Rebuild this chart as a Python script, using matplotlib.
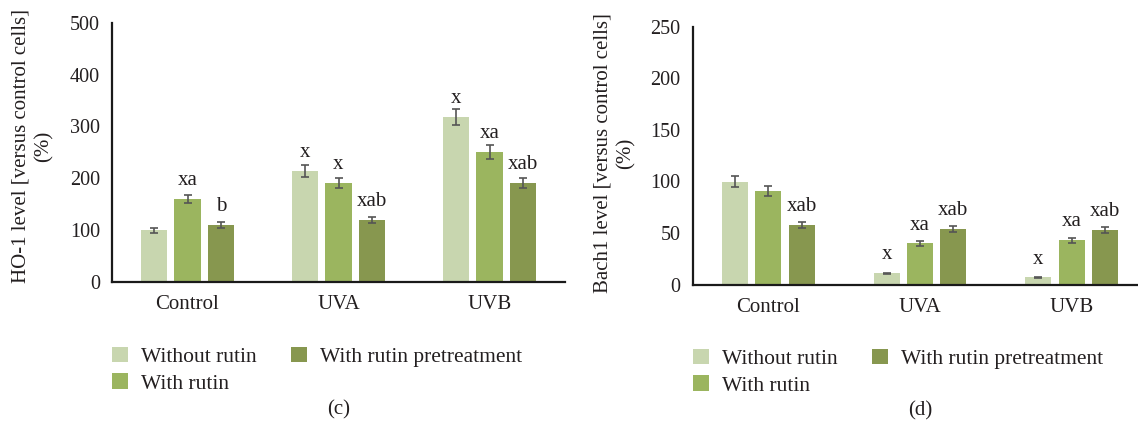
import numpy as np
import matplotlib
matplotlib.use("Agg")
import matplotlib.pyplot as plt

plt.rcParams.update({
    "font.family": ["Liberation Serif", "DejaVu Serif"],
    "text.color": "#231f20",
    "axes.labelcolor": "#231f20",
    "xtick.color": "#231f20",
    "ytick.color": "#231f20",
})

groups = ["Control", "UVA", "UVB"]
series = ["Without rutin", "With rutin", "With rutin pretreatment"]
colors = ["#c8d6af", "#9bb55f", "#87974f"]

# HO-1 level (% of control cells)
ho1_without = [100, 214, 318]
ho1_with = [160, 191, 251]
ho1_pre = [110, 120, 191]
ho1_without_err = [5, 11, 16]
ho1_with_err = [8, 10, 13]
ho1_pre_err = [6, 6, 10]
ho1_without_sig = ["", "x", "x"]
ho1_with_sig = ["xa", "x", "xa"]
ho1_pre_sig = ["b", "xab", "xab"]

# Bach1 level (% of control cells)
bach1_without = [100, 11, 7]
bach1_with = [91, 40, 43]
bach1_pre = [58, 54, 53]
bach1_without_err = [5, 0.7, 0.4]
bach1_with_err = [4.7, 2.3, 2.4]
bach1_pre_err = [3, 2.7, 2.7]
bach1_without_sig = ["", "x", "x"]
bach1_with_sig = ["", "xa", "xa"]
bach1_pre_sig = ["xab", "xab", "xab"]

W, H = 1138, 422
fig = plt.figure(figsize=(W / 100, H / 100), dpi=100)


def draw_panel(rect, vals, errs, sigs, ylabel, ymax, ystep, label_xy):
    ax = fig.add_axes(rect)
    x = np.arange(len(groups))
    offsets = [-0.22, 0.0, 0.22]
    bars = []
    for v, e, s, off, c, name in zip(vals, errs, sigs, offsets, colors, series):
        b = ax.bar(x + off, v, 0.173, color=c, label=name, zorder=2)
        ax.errorbar(x + off, v, yerr=e, fmt="none", ecolor="#555555",
                    elinewidth=1.2, capsize=3, capthick=1.2, zorder=3)
        for xi, vi, si in zip(x + off, v, s):
            if si:
                ax.annotate(si, (xi, vi), xytext=(0, 10), textcoords="offset points",
                            ha="center", va="baseline", fontsize=15)
        bars.append(b)
    ax.set_xlim(-0.5, 2.5)
    ax.set_ylim(0, ymax)
    ax.set_yticks(np.arange(0, ymax + 1, ystep))
    ax.set_xticks(x)
    ax.set_xticklabels(groups, fontsize=15)
    ax.tick_params(axis="x", length=0, pad=9.5)
    ax.tick_params(axis="y", length=0, pad=8.5, labelsize=14.5)
    for side in ("top", "right"):
        ax.spines[side].set_visible(False)
    for side in ("left", "bottom"):
        ax.spines[side].set_linewidth(1.6)
        ax.spines[side].set_color("#1a1a1a")
    ax.set_ylabel(ylabel, fontsize=15, linespacing=1.25)
    ax.yaxis.set_label_coords(*label_xy)
    return ax, bars


ax1, bars1 = draw_panel(
    [112 / W, 1 - 282 / H, 453 / W, 259.3 / H],
    [ho1_without, ho1_with, ho1_pre],
    [ho1_without_err, ho1_with_err, ho1_pre_err],
    [ho1_without_sig, ho1_with_sig, ho1_pre_sig],
    "HO-1 level [versus control cells]\n(%)", 500, 100, (-0.130, 0.523))

ax2, bars2 = draw_panel(
    [692.5 / W, 1 - 284.7 / H, 455 / W, 258 / H],
    [bach1_without, bach1_with, bach1_pre],
    [bach1_without_err, bach1_with_err, bach1_pre_err],
    [bach1_without_sig, bach1_with_sig, bach1_pre_sig],
    "Bach1 level [versus control cells]\n(%)", 250, 50, (-0.125, 0.51))

legend_kw = dict(loc="upper left", ncol=2, frameon=False, fontsize=15.5,
                 borderpad=0, borderaxespad=0, handlelength=0.74,
                 handleheight=0.72, handletextpad=0.6, columnspacing=1.6,
                 labelspacing=0.29, bbox_transform=fig.transFigure)
fig.legend(bars1, series, bbox_to_anchor=(112 / W, 1 - 347 / H), **legend_kw)
fig.legend(bars2, series, bbox_to_anchor=(693 / W, 1 - 349 / H), **legend_kw)

fig.text(338.5 / W, 1 - 410 / H, "(c)", ha="center", va="center", fontsize=15)
fig.text(920 / W, 1 - 411 / H, "(d)", ha="center", va="center", fontsize=15)

fig.savefig("out.png", dpi=100)
